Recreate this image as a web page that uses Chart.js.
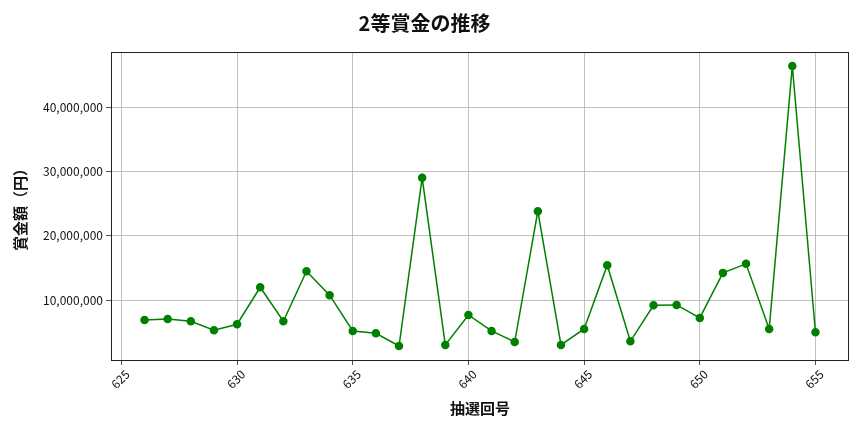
<!DOCTYPE html>
<html>
<head>
<meta charset="utf-8">
<script src="https://cdn.jsdelivr.net/npm/chart.js@4"></script>
<style>
  body { margin: 0; background: #fff; }
</style>
</head>
<body>
<canvas id="chart" width="864" height="432"></canvas>
<script>
const drawNumbers = [626, 627, 628, 629, 630, 631, 632, 633, 634, 635,
  636, 637, 638, 639, 640, 641, 642, 643, 644, 645,
  646, 647, 648, 649, 650, 651, 652, 653, 654, 655];
const prizes = [6940000, 7090000, 6730000, 5330000, 6270000, 12020000, 6730000, 14510000, 10780000, 5230000,
  4870000, 2890000, 29020000, 3050000, 7710000, 5230000, 3510000, 23840000, 3050000, 5540000,
  15440000, 3620000, 9220000, 9270000, 7250000, 14250000, 15650000, 5540000, 46390000, 5020000];
const xTicks = [625, 630, 635, 640, 645, 650, 655];
const yTicks = [10000000, 20000000, 30000000, 40000000];

const FONT = "'Noto Sans CJK JP', 'Noto Sans', sans-serif";

// frame around the plot area, like matplotlib's spines
const frame = {
  id: 'frame',
  afterDraw(chart) {
    const { ctx, chartArea: a } = chart;
    ctx.save();
    ctx.strokeStyle = '#222';
    ctx.lineWidth = 1;
    ctx.strokeRect(a.left + 0.5, a.top + 0.5, a.right - a.left - 1, a.bottom - a.top);
    ctx.restore();
  }
};

new Chart(document.getElementById('chart').getContext('2d'), {
  type: 'line',
  data: {
    datasets: [{
      data: drawNumbers.map((n, i) => ({ x: n, y: prizes[i] })),
      borderColor: '#008000',
      backgroundColor: '#008000',
      borderWidth: 1.5,
      pointRadius: 3.5,
      pointHoverRadius: 3.5,
      tension: 0,
    }],
  },
  options: {
    responsive: false,
    animation: false,
    layout: { padding: { left: 0, right: 15, top: 0, bottom: 0 } },
    plugins: {
      legend: { display: false },
      tooltip: { enabled: false },
      title: {
        display: true,
        text: '2等賞金の推移',
        color: '#111',
        font: { family: FONT, size: 20, weight: 'bold', lineHeight: 1.2 },
        padding: { top: 11.5, bottom: 16.5 },
      },
    },
    scales: {
      x: {
        type: 'linear',
        min: 624.55,
        max: 656.45,
        afterBuildTicks: (scale) => { scale.ticks = xTicks.map(v => ({ value: v })); },
        afterFit: (scale) => { scale.height = 72; },
        ticks: {
          minRotation: 45,
          maxRotation: 45,
          labelOffset: 6,
          padding: 2,
          color: '#111',
          font: { family: FONT, size: 12 },
          callback: (v) => String(v),
        },
        grid: { color: '#b0b0b0', lineWidth: 0.8, tickLength: 5, tickColor: '#222' },
        border: { display: false },
        title: {
          display: true,
          text: '抽選回号',
          color: '#111',
          font: { family: FONT, size: 15, weight: 'bold', lineHeight: 1.2 },
          padding: { top: 0, bottom: 15 },
        },
      },
      y: {
        type: 'linear',
        min: 715000,
        max: 48565000,
        afterBuildTicks: (scale) => { scale.ticks = yTicks.map(v => ({ value: v })); },
        afterFit: (scale) => { scale.width = 111; },
        ticks: {
          padding: 3,
          color: '#111',
          font: { family: FONT, size: 12 },
          callback: (v) => v.toLocaleString('en-US'),
        },
        grid: { color: '#b0b0b0', lineWidth: 0.8, tickLength: 5, tickColor: '#222' },
        border: { display: false },
        title: {
          display: true,
          text: '賞金額（円）',
          color: '#111',
          font: { family: FONT, size: 15, weight: 'bold', lineHeight: 1.2 },
          padding: { top: 11, bottom: 0 },
        },
      },
    },
  },
  plugins: [frame],
});
</script>
</body>
</html>
